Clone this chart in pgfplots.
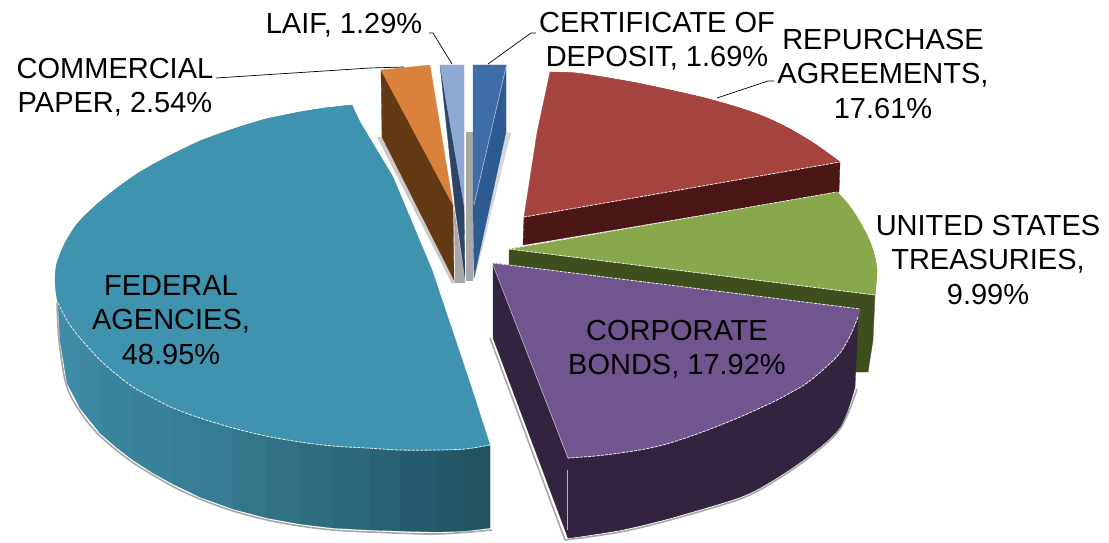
\documentclass[border=0pt]{standalone}
\usepackage{fontspec}
\setmainfont{Liberation Sans}
\usepackage{pgfplots}
\pgfplotsset{compat=1.18}
\definecolor{tealtop}{HTML}{4093AE}
\definecolor{tealL}{HTML}{3E8CA6}
\definecolor{tealD}{HTML}{205260}
\definecolor{purptop}{HTML}{71558E}
\definecolor{purpside}{HTML}{32243F}
\definecolor{greentop}{HTML}{89A84B}
\definecolor{greenside}{HTML}{3E4E1C}
\definecolor{redtop}{HTML}{A5433F}
\definecolor{redside}{HTML}{4A1716}
\definecolor{orangetop}{HTML}{DA823B}
\definecolor{brownside}{HTML}{633A14}
\definecolor{laiftop}{HTML}{8EA9D3}
\definecolor{laifside}{HTML}{2F4568}
\definecolor{cdtop}{HTML}{3D6EA8}
\definecolor{cdside}{HTML}{2E5A92}
\definecolor{shadow}{HTML}{A8A8A8}
\tikzset{
  lab/.style={font=\fontsize{29}{34.5}\selectfont, align=center, text=black, inner sep=0pt},
  lead/.style={draw=black, line width=0.7pt},
  mydash/.style={draw=white!85!gray, line width=0.8pt, dash pattern=on 3pt off 1.2pt},
  sm/.style={smooth, tension=0.55},
}
\begin{document}
\begin{tikzpicture}
\begin{axis}[
  scale only axis, width=1109pt, height=543pt,
  xmin=0, xmax=1109, ymin=0, ymax=543, y dir=reverse,
  hide axis, clip=false,
]
\path (axis cs:0,0) -- (axis cs:1109,543);
% ---------- shadows under the small slices
\addplot[fill=shadow, draw=none, opacity=0.6] coordinates {(377,137) (382,137) (456,282) (452,284)} -- cycle;
\addplot[fill=shadow, draw=none] coordinates {(466,132) (473,132) (473,281) (466,281)} -- cycle;
\addplot[fill=shadow, draw=none] coordinates {(454,207) (465,280) (465,283) (455,283)} -- cycle;
\addplot[fill=shadow, draw=none, opacity=0.45] coordinates {(506,132) (511,133) (479,262) (474,279)} -- cycle;
% ---------- commercial paper
\addplot[fill=brownside, draw=brownside, line width=0.3pt] coordinates {(381,70) (453,205) (454,280) (382,137)} -- cycle;
\addplot[fill=orangetop, draw=orangetop, line width=0.3pt] coordinates {(381,70) (430,65) (453,205)} -- cycle;
% ---------- LAIF
\addplot[fill=laifside, draw=laifside, line width=0.3pt] coordinates {(440,65) (464,205) (465,278) (455,207)} -- cycle;
\addplot[fill=laiftop, draw=laiftop, line width=0.3pt] coordinates {(440,65) (464,65) (464,205)} -- cycle;
% ---------- certificate of deposit
\addplot[fill=cdside, draw=cdside, line width=0.3pt] coordinates {(506,65) (506,132) (474,278) (473,205)} -- cycle;
\addplot[fill=cdtop, draw=cdtop, line width=0.3pt] coordinates {(473,65) (506,65) (474,205) (473,205)} -- cycle;
\addplot[draw=white!60!cdtop, line width=0.6pt] coordinates {(506,67) (474,205)};
% ---------- repurchase agreements
\addplot[fill=redside, draw=redside, line width=0.3pt] coordinates {(524,217) (840,162) (839,192) (523,245)} -- cycle;
\addplot[fill=redtop, draw=redtop, line width=0.3pt, sm] coordinates {(550,72) (576,73) (603,77) (637,83) (670,90) (705,98) (740,108) (765,117) (790,129) (815,144) (840,162)};
\addplot[fill=redtop, draw=redtop, line width=0.3pt] coordinates {(550,72) (576,73) (603,77) (637,83) (670,90) (705,98) (740,108) (765,117) (790,129) (815,144) (840,162) (524,217) (537,133)} -- cycle;
\addplot[mydash] coordinates {(524,217) (840,162)};
% ---------- united states treasuries
\addplot[fill=greenside, draw=greenside, line width=0.3pt] coordinates {(509,249) (875,295) (873,340) (868,372) (852,372) (852,320) (509,265)} -- cycle;
\addplot[fill=greentop, draw=greentop, line width=0.3pt, sm] coordinates {(837,192) (848,204) (857,217) (866,233) (873,250) (877,270) (875,295)};
\addplot[fill=greentop, draw=greentop, line width=0.3pt] coordinates {(509,249) (837,192) (848,204) (857,217) (866,233) (873,250) (877,270) (875,295)} -- cycle;
\addplot[mydash] coordinates {(509,249) (837,192)};
\addplot[mydash] coordinates {(509,249) (875,295)};
% ---------- federal agencies: shadow, side strips, top
\addplot[draw=shadow, line width=1.6pt, sm] coordinates {(57,303) (59,340) (66,384) (79,410) (99,435) (132,462) (172,486) (200,499) (233,511) (267,520) (300,526) (333,530) (370,532) (437,534) (492,530)};
\addplot[fill=tealL!100!tealD, draw=tealL!100!tealD, line width=0.3pt] coordinates {(58,303) (80,338) (80,408) (67,383) (60,340)} -- cycle;
\addplot[fill=tealL!95!tealD, draw=tealL!95!tealD, line width=0.3pt] coordinates {(80,338) (100,360) (100,433) (80,408)} -- cycle;
\addplot[fill=tealL!88!tealD, draw=tealL!88!tealD, line width=0.3pt] coordinates {(100,360) (116,374) (133,387) (133,460) (116,447) (100,433)} -- cycle;
\addplot[fill=tealL!82!tealD, draw=tealL!82!tealD, line width=0.3pt] coordinates {(133,387) (153,398) (173,408) (173,484) (153,473) (133,460)} -- cycle;
\addplot[fill=tealL!76!tealD, draw=tealL!76!tealD, line width=0.3pt] coordinates {(173,408) (200,418) (200,497) (173,484)} -- cycle;
\addplot[fill=tealL!70!tealD, draw=tealL!70!tealD, line width=0.3pt] coordinates {(200,418) (233,428) (233,509) (200,497)} -- cycle;
\addplot[fill=tealL!62!tealD, draw=tealL!62!tealD, line width=0.3pt] coordinates {(233,428) (267,436) (267,518) (233,509)} -- cycle;
\addplot[fill=tealL!54!tealD, draw=tealL!54!tealD, line width=0.3pt] coordinates {(267,436) (300,442) (300,524) (267,518)} -- cycle;
\addplot[fill=tealL!46!tealD, draw=tealL!46!tealD, line width=0.3pt] coordinates {(300,442) (333,446) (333,528) (300,524)} -- cycle;
\addplot[fill=tealL!38!tealD, draw=tealL!38!tealD, line width=0.3pt] coordinates {(333,446) (370,448) (370,530) (333,528)} -- cycle;
\addplot[fill=tealL!28!tealD, draw=tealL!28!tealD, line width=0.3pt] coordinates {(370,448) (400,450) (400,531) (370,530)} -- cycle;
\addplot[fill=tealL!18!tealD, draw=tealL!18!tealD, line width=0.3pt] coordinates {(400,450) (437,450) (437,532) (400,531)} -- cycle;
\addplot[fill=tealL!8!tealD, draw=tealL!8!tealD, line width=0.3pt] coordinates {(437,450) (465,449) (465,531) (437,532)} -- cycle;
\addplot[fill=tealD, draw=tealD, line width=0.3pt] coordinates {(465,449) (490,445) (490,528) (465,531)} -- cycle;
\addplot[fill=tealtop, draw=tealtop, line width=0.3pt, sm] coordinates {(352,105) (325,108) (300,112) (266,119) (233,129) (200,141) (167,157) (140,172) (117,188) (95,206) (77,224) (65,243) (57,263) (55,280) (58,303) (68,322) (80,338) (100,360) (116,374) (133,387) (153,398) (173,408) (200,418) (233,428) (266,436) (300,442) (333,446) (367,448) (400,450) (437,450) (465,449) (490,445)};
\addplot[fill=tealtop, draw=tealtop, line width=0.3pt] coordinates {(352,105) (325,108) (300,112) (266,119) (233,129) (200,141) (167,157) (140,172) (117,188) (95,206) (77,224) (65,243) (57,263) (55,280) (58,303) (68,322) (80,338) (100,360) (116,374) (133,387) (153,398) (173,408) (200,418) (233,428) (266,436) (300,442) (333,446) (367,448) (400,450) (437,450) (465,449) (490,445) (470,383) (432,270) (393,177) (360,122)} -- cycle;
\addplot[mydash, sm] coordinates {(58,303) (68,322) (80,338) (100,360) (116,374) (133,387) (153,398) (173,408) (200,418) (233,428) (266,436) (300,442) (333,446) (367,448) (400,450) (437,450) (465,449) (490,445)};
% ---------- corporate bonds
\addplot[draw=shadow, line width=1.6pt] coordinates {(490,338) (565,540)};
\addplot[draw=shadow, line width=1.6pt, sm] coordinates {(565,540) (620,532) (670,520) (740,499) (773,482) (807,459) (840,429) (857,389)};
\addplot[fill=purpside, draw=purpside, line width=0.3pt] coordinates {(493,263) (568,458) (568,538) (493,338)} -- cycle;
\addplot[fill=purpside, draw=purpside, line width=0.3pt, sm] coordinates {(568,538) (620,530) (670,518) (740,497) (773,480) (807,457) (840,427) (855,387)};
\addplot[fill=purpside, draw=purpside, line width=0.3pt] coordinates {(568,458) (858,317) (855,387) (840,427) (807,457) (773,480) (740,497) (670,518) (620,530) (568,538)} -- cycle;
\addplot[fill=purptop, draw=purptop, line width=0.3pt, sm] coordinates {(860,309) (858,317) (850,336) (840,353) (825,368) (807,383) (790,393) (773,402) (740,417) (705,431) (670,443) (645,449) (620,453) (595,456) (568,458)};
\addplot[fill=purptop, draw=purptop, line width=0.3pt] coordinates {(493,263) (860,309) (858,317) (850,336) (840,353) (825,368) (807,383) (790,393) (773,402) (740,417) (705,431) (670,443) (645,449) (620,453) (595,456) (568,458)} -- cycle;
\addplot[mydash] coordinates {(493,263) (860,309)};
\addplot[mydash, sm] coordinates {(858,317) (850,336) (840,353) (825,368) (807,383) (790,393) (773,402) (740,417) (705,431) (670,443) (645,449) (620,453) (595,456) (568,458)};
\addplot[draw=white!60!purptop, line width=0.6pt] coordinates {(493,265) (568,458)};
\addplot[draw=white!65!purpside, line width=0.7pt] coordinates {(567,470) (567,530)};
% ---------- leader lines
\addplot[lead] coordinates {(216,78) (370,68) (404,67)};
\addplot[lead] coordinates {(429,33) (433,33) (452,64)};
\addplot[lead] coordinates {(536,33) (531,33) (488,64)};
\addplot[lead] coordinates {(774,81) (768,81) (717,98)};
% ---------- labels
\node[lab] at (axis cs:115,87) {COMMERCIAL\\PAPER, 2.54\%};
\node[lab] at (axis cs:344,25) {LAIF, 1.29\%};
\node[lab] at (axis cs:657,41) {CERTIFICATE OF\\DEPOSIT, 1.69\%};
\node[lab] at (axis cs:883,74) {REPURCHASE\\AGREEMENTS,\\17.61\%};
\node[lab] at (axis cs:988,260) {UNITED STATES\\TREASURIES,\\9.99\%};
\node[lab] at (axis cs:171,320) {FEDERAL\\AGENCIES,\\48.95\%};
\node[lab] at (axis cs:677,349) {CORPORATE\\BONDS, 17.92\%};
\end{axis}
\end{tikzpicture}
\end{document}
